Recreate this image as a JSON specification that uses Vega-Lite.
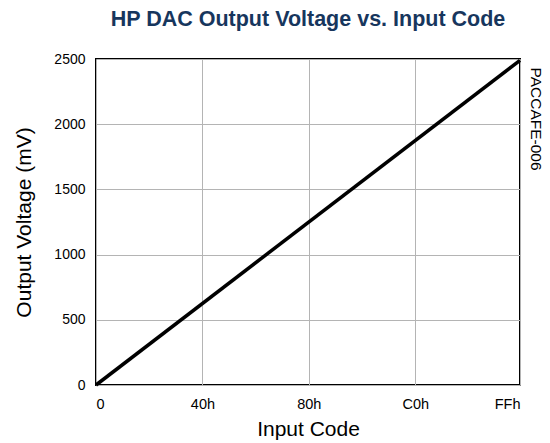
{
  "$schema": "https://vega.github.io/schema/vega-lite/v6.json",
  "width": 424,
  "height": 326,
  "autosize": {"type": "none"},
  "padding": {"left": 96, "top": 59, "right": 30, "bottom": 58},
  "background": "white",
  "title": {
    "text": "HP DAC Output Voltage vs. Input Code",
    "font": "Liberation Sans",
    "fontSize": 21.5,
    "fontWeight": "bold",
    "color": "#17365D",
    "anchor": "middle",
    "frame": "group",
    "offset": 22
  },
  "config": {
    "view": {"stroke": "black", "strokeWidth": 2},
    "axis": {
      "labelFont": "Liberation Sans",
      "titleFont": "Liberation Sans",
      "labelColor": "black",
      "titleColor": "black",
      "labelFontSize": 14.5,
      "titleFontSize": 21,
      "titleFontWeight": "normal",
      "ticks": false,
      "domain": false,
      "gridColor": "#b4b4b4",
      "gridOpacity": 1,
      "gridWidth": 1
    }
  },
  "data": {
    "values": [
      {"code": 0, "mv": 0},
      {"code": 255, "mv": 2490}
    ]
  },
  "layer": [
    {
      "mark": {"type": "line", "color": "black", "strokeWidth": 3.5},
      "encoding": {
        "x": {
          "field": "code",
          "type": "quantitative",
          "scale": {"domain": [0, 255], "nice": false, "zero": false},
          "axis": {
            "title": "Input Code",
            "values": [0, 64, 128, 192, 255],
            "labelExpr": "datum.value == 0 ? '0' : datum.value == 64 ? '40h' : datum.value == 128 ? '80h' : datum.value == 192 ? 'C0h' : 'FFh'",
            "labelPadding": 12,
            "titlePadding": 8
          }
        },
        "y": {
          "field": "mv",
          "type": "quantitative",
          "scale": {"domain": [0, 2500], "nice": false},
          "axis": {
            "title": "Output Voltage (mV)",
            "values": [0, 500, 1000, 1500, 2000, 2500],
            "format": "d",
            "labelFontSize": 14,
            "labelPadding": 11,
            "titlePadding": 19
          }
        }
      }
    },
    {
      "mark": {"type": "line", "opacity": 0},
      "encoding": {
        "x": {"field": "code", "type": "quantitative"},
        "y": {
          "field": "mv",
          "type": "quantitative",
          "axis": {
            "orient": "right",
            "title": "PACCAFE-006",
            "titleFontSize": 15.5,
            "titleAngle": 90,
            "titleAlign": "left",
            "titleY": 8,
            "titlePadding": 7,
            "labels": false,
            "grid": false
          }
        }
      }
    }
  ],
  "resolve": {"axis": {"y": "independent"}}
}
